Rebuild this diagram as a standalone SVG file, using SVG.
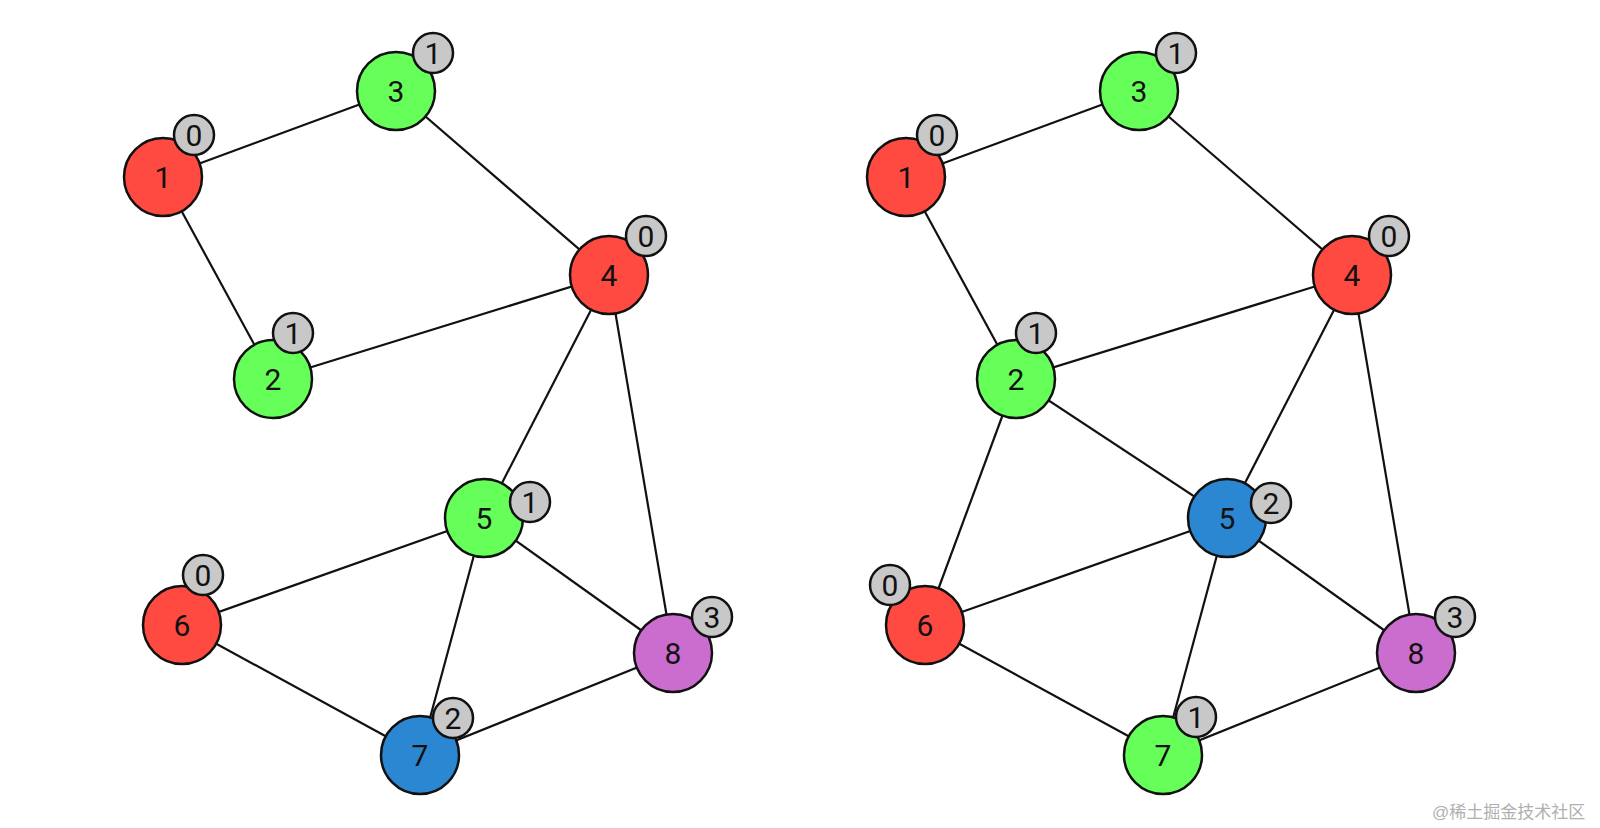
<svg xmlns="http://www.w3.org/2000/svg" width="1600" height="828" viewBox="0 0 1600 828">
<style>
.e{stroke:#111;stroke-width:2.2;fill:none}
.n{stroke:#111;stroke-width:2.5}
.r{fill:#fe4a40}.g{fill:#66ff5a}.b{fill:#2b87d1}.p{fill:#cb6dce}
.k{fill:#c8c8c8;stroke:#111;stroke-width:2.5}
text{font-family:Roboto,"Liberation Sans",sans-serif;font-size:30px;fill:#111;text-anchor:middle;dominant-baseline:central}
.w{font-family:"Liberation Sans","Noto Sans CJK SC",sans-serif;font-size:17px;fill:#b0b0b0;text-anchor:start;dominant-baseline:auto}
</style>
<rect width="1600" height="828" fill="#fff"/>
<g id="connectors-left">
<line class="e" x1="163" y1="177" x2="396" y2="91"/>
<line class="e" x1="163" y1="177" x2="273" y2="379"/>
<line class="e" x1="396" y1="91" x2="609" y2="275"/>
<line class="e" x1="273" y1="379" x2="609" y2="275"/>
<line class="e" x1="609" y1="275" x2="484" y2="518"/>
<line class="e" x1="609" y1="275" x2="673" y2="653"/>
<line class="e" x1="484" y1="518" x2="182" y2="625"/>
<line class="e" x1="484" y1="518" x2="420" y2="755"/>
<line class="e" x1="484" y1="518" x2="673" y2="653"/>
<line class="e" x1="182" y1="625" x2="420" y2="755"/>
<line class="e" x1="420" y1="755" x2="673" y2="653"/>
</g>
<g id="connectors-right">
<line class="e" x1="906" y1="177" x2="1139" y2="91"/>
<line class="e" x1="906" y1="177" x2="1016" y2="379"/>
<line class="e" x1="1139" y1="91" x2="1352" y2="275"/>
<line class="e" x1="1016" y1="379" x2="1352" y2="275"/>
<line class="e" x1="1352" y1="275" x2="1227" y2="518"/>
<line class="e" x1="1352" y1="275" x2="1416" y2="653"/>
<line class="e" x1="1016" y1="379" x2="1227" y2="518"/>
<line class="e" x1="1016" y1="379" x2="925" y2="625"/>
<line class="e" x1="1227" y1="518" x2="925" y2="625"/>
<line class="e" x1="1227" y1="518" x2="1163" y2="755"/>
<line class="e" x1="1227" y1="518" x2="1416" y2="653"/>
<line class="e" x1="925" y1="625" x2="1163" y2="755"/>
<line class="e" x1="1163" y1="755" x2="1416" y2="653"/>
</g>
<g id="L1"><circle class="n r" cx="163" cy="177" r="39"/><text x="163" y="177">1</text><circle class="k" cx="194" cy="135" r="20"/><text x="194" y="135">0</text></g>
<g id="L3"><circle class="n g" cx="396" cy="91" r="39"/><text x="396" y="91">3</text><circle class="k" cx="433" cy="53" r="20"/><text x="433" y="53">1</text></g>
<g id="L4"><circle class="n r" cx="609" cy="275" r="39"/><text x="609" y="275">4</text><circle class="k" cx="646" cy="236" r="20"/><text x="646" y="236">0</text></g>
<g id="L2"><circle class="n g" cx="273" cy="379" r="39"/><text x="273" y="379">2</text><circle class="k" cx="293" cy="333" r="20"/><text x="293" y="333">1</text></g>
<g id="L5"><circle class="n g" cx="484" cy="518" r="39"/><text x="484" y="518">5</text><circle class="k" cx="530" cy="502" r="20"/><text x="530" y="502">1</text></g>
<g id="L6"><circle class="n r" cx="182" cy="625" r="39"/><text x="182" y="625">6</text><circle class="k" cx="203" cy="575" r="20"/><text x="203" y="575">0</text></g>
<g id="L7"><circle class="n b" cx="420" cy="755" r="39"/><text x="420" y="755">7</text><circle class="k" cx="453" cy="718" r="20"/><text x="453" y="718">2</text></g>
<g id="L8"><circle class="n p" cx="673" cy="653" r="39"/><text x="673" y="653">8</text><circle class="k" cx="712" cy="617" r="20"/><text x="712" y="617">3</text></g>
<g id="R1"><circle class="n r" cx="906" cy="177" r="39"/><text x="906" y="177">1</text><circle class="k" cx="937" cy="135" r="20"/><text x="937" y="135">0</text></g>
<g id="R3"><circle class="n g" cx="1139" cy="91" r="39"/><text x="1139" y="91">3</text><circle class="k" cx="1176" cy="53" r="20"/><text x="1176" y="53">1</text></g>
<g id="R4"><circle class="n r" cx="1352" cy="275" r="39"/><text x="1352" y="275">4</text><circle class="k" cx="1389" cy="236" r="20"/><text x="1389" y="236">0</text></g>
<g id="R2"><circle class="n g" cx="1016" cy="379" r="39"/><text x="1016" y="379">2</text><circle class="k" cx="1036" cy="333" r="20"/><text x="1036" y="333">1</text></g>
<g id="R5"><circle class="n b" cx="1227" cy="518" r="39"/><text x="1227" y="518">5</text><circle class="k" cx="1271" cy="503" r="20"/><text x="1271" y="503">2</text></g>
<g id="R6"><circle class="n r" cx="925" cy="625" r="39"/><text x="925" y="625">6</text><circle class="k" cx="890" cy="585" r="20"/><text x="890" y="585">0</text></g>
<g id="R7"><circle class="n g" cx="1163" cy="755" r="39"/><text x="1163" y="755">7</text><circle class="k" cx="1196" cy="717" r="20"/><text x="1196" y="717">1</text></g>
<g id="R8"><circle class="n p" cx="1416" cy="653" r="39"/><text x="1416" y="653">8</text><circle class="k" cx="1455" cy="617" r="20"/><text x="1455" y="617">3</text></g>
<text class="w" x="1432" y="818">@稀土掘金技术社区</text>
</svg>
